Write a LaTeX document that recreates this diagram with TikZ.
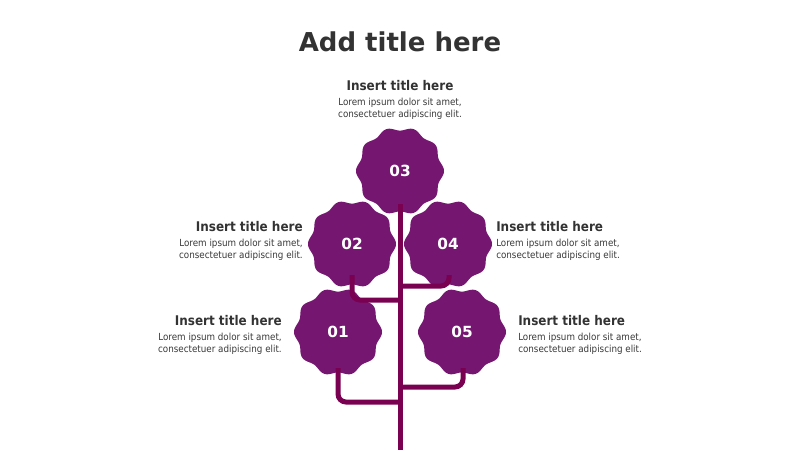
\documentclass[tikz,border=0pt]{standalone}
\usepackage{fontspec}
\setmainfont{DejaVu Sans}
\newfontfamily\condfont{DejaVu Sans Condensed}
\usetikzlibrary{calc,positioning}
\definecolor{petal}{HTML}{751670}
\definecolor{stalk}{HTML}{7A0052}
\definecolor{ink}{HTML}{333333}
\definecolor{lightink}{HTML}{383838}

\begin{document}
\begin{tikzpicture}[x=0.75pt,y=-0.75pt]
\tikzset{
	flower/.style = {fill=petal},
	num node/.style = {text=white, font=\bfseries\fontsize{11.5}{13}\selectfont},
	stalk line/.style = {draw=stalk, line width=3.75pt, rounded corners=6pt},
	head node/.style = {font=\condfont\bfseries\fontsize{10}{12}\selectfont, text=ink, inner sep=0},
	body node/.style = {font=\condfont\fontsize{7.3}{9}\selectfont, text=lightink, inner sep=0},
}
\useasboundingbox (0,0) rectangle (800,450);

% title
\node[font=\bfseries\fontsize{19.5}{22}\selectfont, text=ink] (title) at (400,42) {Add title here};

% flowers
\foreach \n/\cx/\cy in {03/400/171, 02/352/244, 04/448/244, 01/338/332, 05/462/332}{
	\fill[flower, shift={(\cx,\cy)}] plot[domain=0:360, samples=241] (\x:{42.2+1.8*cos(10*\x)}) -- cycle;
	\node[num node] (f\n) at (\cx,\cy) {\n};
}

% stem and branches
\coordinate (top) at (400,204);
\coordinate (bottom) at (400,450);
\coordinate (j02) at (400,300);
\coordinate (j04) at (400,286);
\coordinate (j01) at (400,402);
\coordinate (j05) at (400,387);
\draw[stalk line] (top) -- (bottom);
\draw[stalk line] ($(f02)+(0,31)$) |- (j02);
\draw[stalk line] ($(f04)+(1,31)$) |- (j04);
\draw[stalk line] ($(f01)+(0,36)$) |- (j01);
\draw[stalk line] ($(f05)+(1,36)$) |- (j05);

% texts
\node[head node] (t03) at (400,86) {Insert title here};
\node[body node, align=center, below=4.5pt of t03] (d03) {Lorem ipsum dolor sit amet,\\consectetuer adipiscing elit.};

\node[head node, anchor=east] (t02) at (303,227) {Insert title here};
\node[body node, align=right, below left=4.5pt and 0pt of t02.south east] (d02) {Lorem ipsum dolor sit amet,\\consectetuer adipiscing elit.};

\node[head node, anchor=west] (t04) at (496,227) {Insert title here};
\node[body node, align=left, below right=4.5pt and 0pt of t04.south west] (d04) {Lorem ipsum dolor sit amet,\\consectetuer adipiscing elit.};

\node[head node, anchor=east] (t01) at (282,321) {Insert title here};
\node[body node, align=right, below left=4.5pt and 0pt of t01.south east] (d01) {Lorem ipsum dolor sit amet,\\consectetuer adipiscing elit.};

\node[head node, anchor=west] (t05) at (518,321) {Insert title here};
\node[body node, align=left, below right=4.5pt and 0pt of t05.south west] (d05) {Lorem ipsum dolor sit amet,\\consectetuer adipiscing elit.};

\end{tikzpicture}
\end{document}
